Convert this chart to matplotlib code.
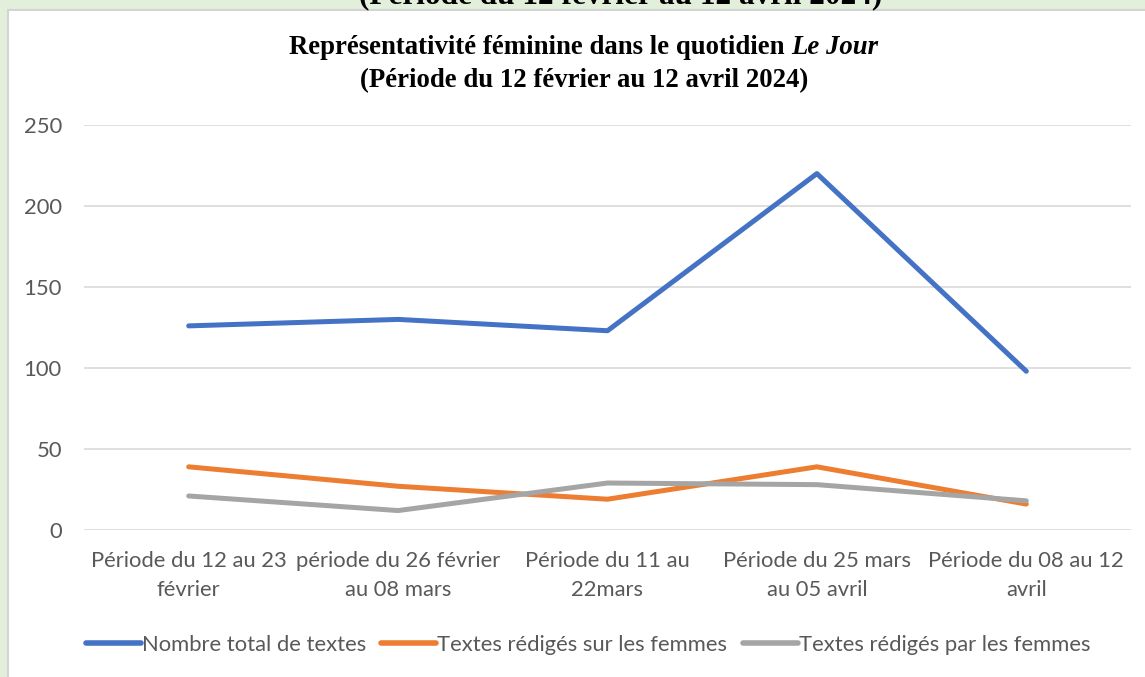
import matplotlib.pyplot as plt
from matplotlib.patches import Rectangle

# data
periodes = ['Période du 12 au 23\nfévrier', 'période du 26 février\nau 08 mars',
            'Période du 11 au\n22mars', 'Période du 25 mars\nau 05 avril',
            'Période du 08 au 12\navril']
total_textes = [126, 130, 123, 220, 98]
sur_femmes = [39, 27, 19, 39, 16]
par_femmes = [21, 12, 29, 28, 18]
noms_series = ['Nombre total de textes', 'Textes rédigés sur les femmes',
               'Textes rédigés par les femmes']
couleurs = ['#4472C4', '#ED7D31', '#A5A5A5']

W, H = 1145, 677
fig = plt.figure(figsize=(W / 100, H / 100), dpi=100)
fig.patch.set_facecolor('#E2EFDA')

# white chart panel (behind the axes)
panel = Rectangle((8 / W, -0.01), 1.0, (H - 10) / H + 0.01, transform=fig.transFigure,
                  facecolor='white', edgecolor='#D4D4D4', linewidth=1.5, zorder=-1)
fig.patches.append(panel)

# caption of the document, cut off at the top
fig.text(621 / W, 1 - 3.5 / H, '(Période du 12 février au 12 avril 2024)',
         family='Liberation Serif', weight='bold', fontsize=22.5,
         ha='center', va='baseline', color='black')

sans = ['Lato', 'DejaVu Sans']
gris_txt = '#595959'
fs = 15.8

ax = fig.add_axes([84 / W, (H - 530) / H, (1131 - 84) / W, 405 / H])
ax.patch.set_alpha(0)
x = range(len(periodes))
for vals, nom, c in zip([total_textes, sur_femmes, par_femmes], noms_series, couleurs):
    ax.plot(x, vals, color=c, lw=3.6, solid_capstyle='round', solid_joinstyle='round',
            label=nom, zorder=3)

ax.set_xlim(-0.5, len(periodes) - 0.5)
ax.set_ylim(0, 250)
ax.set_yticks(range(0, 251, 50))
ax.set_xticks(list(x))
ax.set_xticklabels(periodes, family=sans, fontsize=fs, color=gris_txt, linespacing=1.55)
for lab in ax.get_yticklabels():
    lab.set_family(sans)
    lab.set_fontsize(fs)
    lab.set_color(gris_txt)
ax.tick_params(length=0)
ax.tick_params(axis='x', pad=15)
ax.tick_params(axis='y', pad=16)
ax.grid(axis='y', color='#D9D9D9', lw=1.2)
ax.set_axisbelow(True)
for s in ax.spines.values():
    s.set_visible(False)

# title with italic newspaper name
renderer = fig.canvas.get_renderer()
kw = dict(family='Liberation Serif', weight='bold', fontsize=19.3, color='black', va='center')
t1 = fig.text(0, 1 - 47 / H, 'Représentativité féminine dans le quotidien\u00a0', **kw)
t2 = fig.text(0, 1 - 47 / H, 'Le Jour', style='italic', **kw)
w1 = t1.get_window_extent(renderer).width
w2 = t2.get_window_extent(renderer).width
x0 = 584 - (w1 + w2) / 2
t1.set_x(x0 / W)
t2.set_x((x0 + w1) / W)
fig.text(584 / W, 1 - 81 / H, '(Période du 12 février au 12 avril 2024)', ha='center', **kw)

leg = fig.legend(loc='center', bbox_to_anchor=(588 / W, 1 - 645 / H), ncol=3, frameon=False,
                 handlelength=2.5, handletextpad=0.05, columnspacing=0.7,
                 prop={'family': sans, 'size': fs})
for t in leg.get_texts():
    t.set_color(gris_txt)
for h in leg.get_lines():
    h.set_linewidth(4)

fig.savefig('out.png', dpi=100, facecolor=fig.get_facecolor())
